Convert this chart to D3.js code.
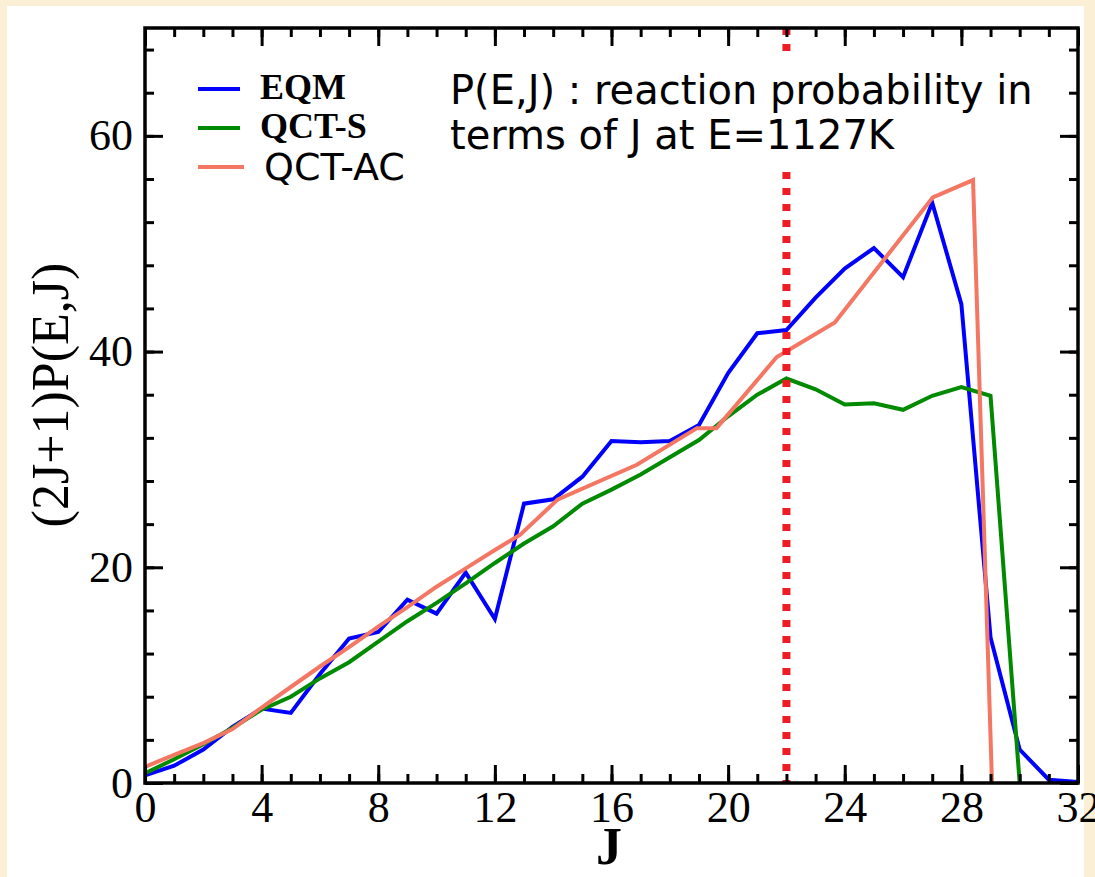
<!DOCTYPE html>
<html>
<head>
<meta charset="utf-8">
<script src="https://cdn.jsdelivr.net/npm/d3@7"></script>
<style>
  html, body { margin: 0; padding: 0; background: #fbf0d6; }
  svg { display: block; }
</style>
</head>
<body>
<div id="vis"></div>
<script>
// chart data
var eqmJ = d3.range(0, 33);
var eqmVals = [0.7, 1.6, 3.1, 5.2, 6.9, 6.5, 10.1, 13.4, 14.0, 17.0, 15.7, 19.5, 15.2, 25.9, 26.3, 28.4,
               31.7, 31.6, 31.7, 33.2, 38.0, 41.7, 42.0, 45.0, 47.7, 49.6, 46.9, 53.8, 44.4, 13.5, 3.1, 0.3, 0.1];

var qctsJ = d3.range(0, 31);
var qctsVals = [0.9, 2.2, 3.6, 5.1, 6.8, 8.0, 9.7, 11.2, 13.1, 15.0, 16.7, 18.5, 20.4, 22.2, 23.8, 25.9,
                27.2, 28.6, 30.2, 31.8, 34.0, 36.0, 37.5, 36.5, 35.1, 35.2, 34.6, 35.9, 36.7, 35.9, 0];

var qctacJ = [0, 1, 2, 3, 4, 5, 6, 7, 8, 9, 10, 11, 12, 12.86, 14.16, 16.87, 18.93, 19.6, 21.67, 23.66, 27.02, 28.4, 29.05];
var qctacVals = [1.5, 2.6, 3.7, 5.0, 7.0, 8.9, 10.8, 12.6, 14.5, 16.3, 18.2, 19.9, 21.6, 23.0, 26.3, 29.5, 32.9, 32.9, 39.5, 42.7, 54.3, 55.9, 0];

var markerJ = 22;

var xTicks = [0, 4, 8, 12, 16, 20, 24, 28, 32];
var yTicks = [0, 20, 40, 60];

var legendNames = ["EQM", "QCT-S", "QCT-AC"];
var noteLines = ["P(E,J) : reaction probability in", "terms of J at E=1127K"];

// page size
var width = 1095, height = 877;
var plot = {left: 145, right: 1078, top: 28, bottom: 783};

var svg = d3.select("#vis")
    .append("svg")
    .attr("width", width)
    .attr("height", height);

// white panel on the cream page
svg.append("rect")
    .attr("x", 7).attr("y", 6)
    .attr("width", 1077).attr("height", height)
    .attr("fill", "#ffffff");

var x = d3.scaleLinear().domain([0, 32]).range([plot.left, plot.right]);
var y = d3.scaleLinear().domain([0, 70]).range([plot.bottom, plot.top]);

var line = d3.line()
    .x(d => x(d[0]))
    .y(d => y(d[1]));

var series = [
    {name: "EQM", color: "#0000ff", pts: d3.zip(eqmJ, eqmVals)},
    {name: "QCT-S", color: "#008a00", pts: d3.zip(qctsJ, qctsVals)},
    {name: "QCT-AC", color: "#f47763", pts: d3.zip(qctacJ, qctacVals)}
];

svg.selectAll(".series")
    .data(series)
    .join("path")
    .attr("class", "series")
    .attr("fill", "none")
    .attr("stroke", d => d.color)
    .attr("stroke-width", 4)
    .attr("stroke-linejoin", "miter")
    .attr("d", d => line(d.pts));

// red dotted marker at J = 22
svg.append("line")
    .attr("x1", x(markerJ)).attr("x2", x(markerJ))
    .attr("y1", y(70)).attr("y2", y(0))
    .attr("stroke", "#ee1c25")
    .attr("stroke-width", 8)
    .attr("stroke-dasharray", "7,9");

// text note with white box behind it
svg.append("rect")
    .attr("x", 445).attr("y", 57)
    .attr("width", 600).attr("height", 112)
    .attr("fill", "#ffffff");

svg.selectAll(".note")
    .data(noteLines)
    .join("text")
    .attr("class", "note")
    .attr("x", 450)
    .attr("y", (d, i) => 104 + i * 45)
    .style("font", "40px 'DejaVu Sans', sans-serif")
    .attr("fill", "#000")
    .text(d => d);

// axes
function styleAxis(g) {
    g.select(".domain").remove();
    g.selectAll(".tick line").attr("stroke", "#000").attr("stroke-width", 3);
    g.selectAll(".tick text")
        .style("font", "44px 'Liberation Serif', 'Times New Roman', serif")
        .attr("fill", "#000");
}

svg.append("g")
    .attr("transform", "translate(0," + plot.bottom + ")")
    .call(d3.axisBottom(x).tickValues(d3.range(0, 33)).tickSize(-9).tickFormat(""))
    .call(styleAxis);
svg.append("g")
    .attr("transform", "translate(0," + plot.bottom + ")")
    .call(d3.axisBottom(x).tickValues(xTicks).tickSize(-18).tickPadding(8).tickFormat(d3.format("d")))
    .call(styleAxis);

svg.append("g")
    .attr("transform", "translate(0," + plot.top + ")")
    .call(d3.axisTop(x).tickValues(d3.range(0, 33)).tickSize(-9).tickFormat(""))
    .call(styleAxis);
svg.append("g")
    .attr("transform", "translate(0," + plot.top + ")")
    .call(d3.axisTop(x).tickValues(xTicks).tickSize(-18).tickFormat(""))
    .call(styleAxis);

svg.append("g")
    .attr("transform", "translate(" + plot.left + ",0)")
    .call(d3.axisLeft(y).tickValues(d3.range(0, 71, 4)).tickSize(-9).tickFormat(""))
    .call(styleAxis);
svg.append("g")
    .attr("transform", "translate(" + plot.left + ",0)")
    .call(d3.axisLeft(y).tickValues(yTicks).tickSize(-18).tickPadding(12).tickFormat(d3.format("d")))
    .call(styleAxis);

svg.append("g")
    .attr("transform", "translate(" + plot.right + ",0)")
    .call(d3.axisRight(y).tickValues(d3.range(0, 71, 4)).tickSize(-9).tickFormat(""))
    .call(styleAxis);
svg.append("g")
    .attr("transform", "translate(" + plot.right + ",0)")
    .call(d3.axisRight(y).tickValues(yTicks).tickSize(-18).tickFormat(""))
    .call(styleAxis);

// frame
svg.append("rect")
    .attr("x", plot.left).attr("y", plot.top)
    .attr("width", plot.right - plot.left)
    .attr("height", plot.bottom - plot.top)
    .attr("fill", "none")
    .attr("stroke", "#000")
    .attr("stroke-width", 3.5);

// axis titles
svg.append("text")
    .attr("transform", "translate(68,395) rotate(-90)")
    .attr("text-anchor", "middle")
    .style("font", "52px 'Liberation Serif', 'Times New Roman', serif")
    .text("(2J+1)P(E,J)");

svg.append("text")
    .attr("x", 609).attr("y", 864)
    .attr("text-anchor", "middle")
    .style("font", "bold 52px 'Liberation Serif', 'Times New Roman', serif")
    .text("J");

// legend
var legend = svg.selectAll(".legend")
    .data(series)
    .join("g")
    .attr("class", "legend")
    .attr("transform", (d, i) => "translate(0," + (89 + i * 39) + ")");

legend.append("line")
    .attr("x1", 198).attr("x2", (d, i) => i == 2 ? 244 : 240)
    .attr("y1", 0).attr("y2", 0)
    .attr("stroke", d => d.color)
    .attr("stroke-width", 4);

legend.append("text")
    .attr("x", (d, i) => i == 2 ? 264 : 260)
    .attr("y", (d, i) => i == 2 ? 13 : 10)
    .style("font", (d, i) => i == 2 ? "38px 'DejaVu Sans', sans-serif" : "bold 36px 'Liberation Serif', 'Times New Roman', serif")
    .text((d, i) => legendNames[i]);
</script>
</body>
</html>
